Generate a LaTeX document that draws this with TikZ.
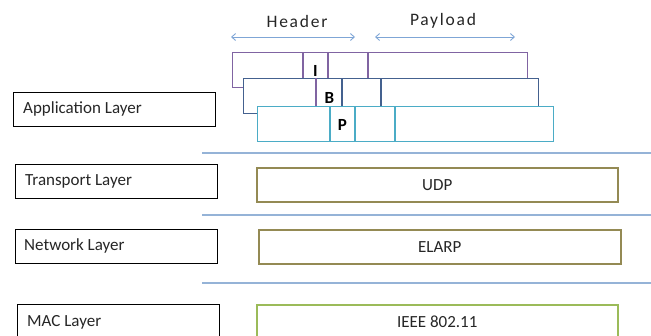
\documentclass[tikz,border=0pt]{standalone}
\usepackage{fontspec}
\setmainfont{Carlito}
\newfontfamily\spacedfont[LetterSpace=10]{Carlito}
\usetikzlibrary{arrows.meta}
\definecolor{sep}{HTML}{95B3D7}
\definecolor{arr}{HTML}{7FA6D6}
\definecolor{pur}{HTML}{8064A2}
\definecolor{dblue}{HTML}{44618F}
\definecolor{cyn}{HTML}{4BACC6}
\definecolor{olive}{HTML}{948A54}
\definecolor{lgreen}{HTML}{9BBB59}
\tikzset{
  layerbox/.style={draw=black, line width=1.3pt, anchor=north west, minimum height=34pt,
    inner sep=0pt},
  protobox/.style={draw=#1, line width=1.5pt, anchor=north west, minimum height=34pt,
    inner sep=0pt},
  pkt/.style={draw=#1, fill=white, line width=1.4pt, anchor=north west, minimum height=35pt, inner sep=0pt},
  div/.style={draw=#1, line width=1.4pt},
  sepline/.style={draw=sep, line width=1.2pt},
  span/.style={draw=arr, line width=0.9pt, {Straight Barb[length=4pt,width=7pt]}-{Straight Barb[length=4pt,width=7pt]}},
  lbl/.style={font=\fontsize{17}{19}\selectfont, text=black!85, inner sep=0pt},
  toplbl/.style={font=\spacedfont\fontsize{17.5}{19}\selectfont, text=black!85, inner sep=0pt},
  letter/.style={font=\fontsize{17}{19}\selectfont\bfseries, inner sep=0pt}
}
\begin{document}
\begin{tikzpicture}[x=1pt,y=-1pt]
\useasboundingbox (0,0) rectangle (651,335);
\clip (0,0) rectangle (651,335);
% labels and spans
\coordinate (h1) at (231,37); \coordinate (h2) at (355,37);
\coordinate (p1) at (375,37); \coordinate (p2) at (515,37);
\draw[span] (h1) -- (h2);
\draw[span] (p1) -- (p2);
\node[toplbl] (header) at (297,21) {Header};
\node[toplbl] (payload) at (443,21) {Payload};
% packets
\node[pkt=pur, minimum width=295pt] (pI) at (232,52) {};
\draw[div=pur] (303,52) -- (303,87) (328,52) -- (328,87) (368,52) -- (368,87);
\node[letter] (I) at (315.5,71) {I};
\node[pkt=dblue, minimum width=295pt] (pB) at (243,78) {};
\draw[div=pur] (316,78) -- (316,113);
\draw[div=dblue] (342,78) -- (342,113) (381,78) -- (381,113);
\node[letter] (B) at (329.5,98) {B};
\node[pkt=cyn, minimum width=296pt] (pP) at (257,106) {};
\draw[div=cyn] (330,106) -- (330,141) (355,106) -- (355,141) (395,106) -- (395,141);
\node[letter] (P) at (342.5,125) {P};
% separators
\coordinate (s1a) at (202,153); \coordinate (s1b) at (651,153);
\coordinate (s2a) at (202,215); \coordinate (s2b) at (651,215);
\coordinate (s3a) at (202,283); \coordinate (s3b) at (651,283);
\draw[sepline] (s1a) -- (s1b);
\draw[sepline] (s2a) -- (s2b);
\draw[sepline] (s3a) -- (s3b);
% left layer boxes
\node[layerbox, minimum width=202pt] (app) at (13,92) {};
\node[lbl, anchor=west] (appt) at (23,109) {Application Layer};
\node[layerbox, minimum width=202pt] (tra) at (15,164) {};
\node[lbl, anchor=west] (trat) at (25,181) {Transport Layer};
\node[layerbox, minimum width=202pt] (net) at (15,229) {};
\node[lbl, anchor=west] (nett) at (24,246) {Network Layer};
\node[layerbox, minimum width=202pt] (mac) at (17,304) {};
\node[lbl, anchor=west] (mact) at (27,322) {MAC Layer};
% right protocol boxes
\node[protobox=olive, minimum width=361pt] (udp) at (256,167) {};
\node[lbl] at (udp.center) {UDP};
\node[protobox=olive, minimum width=362pt] (elarp) at (258,229) {};
\node[lbl] at (elarp.center) {ELARP};
\node[protobox=lgreen, minimum width=361pt] (ieee) at (256,304) {};
\node[lbl] at (ieee.center) {IEEE 802.11};
\end{tikzpicture}
\end{document}
